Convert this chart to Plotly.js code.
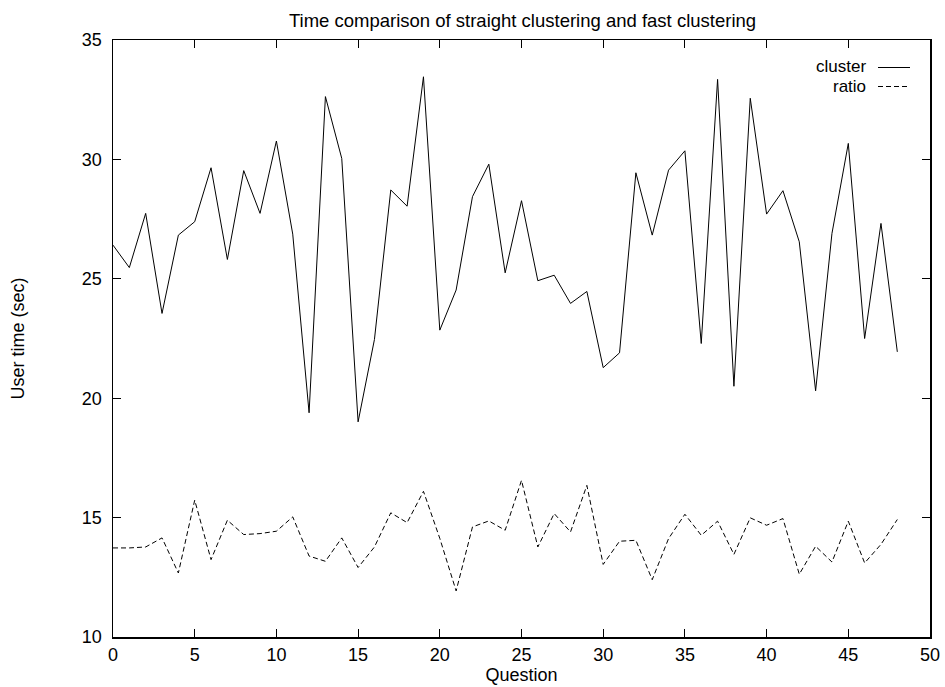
<!DOCTYPE html>
<html>
<head>
<meta charset="utf-8">
<script src="https://cdn.plot.ly/plotly-3.0.1.min.js"></script>
<style>html,body{margin:0;padding:0;background:#fff;}#chart{width:945px;height:687px;}</style>
</head>
<body>
<div id="chart"></div>
<script>
const questions = Array.from({length: 49}, (_, i) => i);
const clusterTimes = [26.41, 25.47, 27.74, 23.55, 26.83, 27.39, 29.65, 25.81, 29.53, 27.74,
  30.77, 26.87, 19.39, 32.63, 30.04, 19.01, 22.46, 28.72, 28.04, 33.46,
  22.85, 24.53, 28.44, 29.80, 25.25, 28.27, 24.92, 25.15, 23.97, 24.47,
  21.28, 21.90, 29.44, 26.83, 29.55, 30.36, 22.29, 33.35, 20.50, 32.56,
  27.71, 28.69, 26.55, 20.31, 26.90, 30.67, 22.50, 27.32, 21.94];
const ratioTimes = [13.73, 13.73, 13.77, 14.15, 12.68, 15.73, 13.24, 14.89, 14.29, 14.33,
  14.43, 15.03, 13.39, 13.17, 14.15, 12.91, 13.77, 15.20, 14.79, 16.10,
  14.13, 11.93, 14.61, 14.86, 14.47, 16.56, 13.77, 15.17, 14.40, 16.35,
  13.04, 14.01, 14.05, 12.40, 14.12, 15.14, 14.26, 14.85, 13.46, 14.99,
  14.68, 14.96, 12.63, 13.80, 13.14, 14.85, 13.10, 13.88, 14.92];
const seriesNames = ['cluster', 'ratio'];
const xTicks = [0, 5, 10, 15, 20, 25, 30, 35, 40, 45, 50];
const yTicks = [10, 15, 20, 25, 30, 35];

const FONT = 'Liberation Sans, Arial, Helvetica, sans-serif';

const traces = [
  {x: questions, y: clusterTimes, name: seriesNames[0], type: 'scatter', mode: 'lines',
   line: {color: '#000', width: 1}, showlegend: false},
  {x: questions, y: ratioTimes, name: seriesNames[1], type: 'scatter', mode: 'lines',
   line: {color: '#000', width: 1, dash: '5px,3px'}, showlegend: false}
];

const axisCommon = {
  showgrid: false, zeroline: false, showline: true, linecolor: '#000', linewidth: 1.5,
  mirror: 'ticks', ticks: 'inside', ticklen: 8, tickwidth: 1, tickcolor: '#000',
  tickfont: {family: FONT, size: 18, color: '#000'}
};

const layout = {
  width: 945, height: 687,
  margin: {l: 113, r: 15, t: 40, b: 50},
  paper_bgcolor: '#fff', plot_bgcolor: '#fff',
  font: {family: FONT, size: 18, color: '#000'},
  title: {text: 'Time comparison of straight clustering and fast clustering',
          font: {family: FONT, size: 18.5, color: '#000'},
          x: 522.5/945, xanchor: 'center', yref: 'container', y: 1 - 21/687, yanchor: 'middle'},
  xaxis: Object.assign({}, axisCommon, {
    range: [0, 50], tickvals: xTicks, ticktext: xTicks.map(String), ticklabelstandoff: 1,
    title: {text: 'Question', font: {family: FONT, size: 18, color: '#000'}, standoff: 1}
  }),
  yaxis: Object.assign({}, axisCommon, {
    range: [10, 35], tickvals: yTicks, ticktext: yTicks.map(String), ticklabelstandoff: 6,
    title: {text: 'User time (sec)', font: {family: FONT, size: 18, color: '#000'}, standoff: 52}
  }),
  annotations: [
    {xref: 'paper', yref: 'paper', x: (867-113)/817, y: 1 - (66.5-40)/597, xanchor: 'right', yanchor: 'middle',
     text: seriesNames[0], showarrow: false, borderpad: 0, font: {family: FONT, size: 17, color: '#000'}},
    {xref: 'paper', yref: 'paper', x: (867-113)/817, y: 1 - (87-40)/597, xanchor: 'right', yanchor: 'middle',
     text: seriesNames[1], showarrow: false, borderpad: 0, font: {family: FONT, size: 17, color: '#000'}}
  ],
  shapes: [
    {type: 'line', xref: 'paper', yref: 'paper', x0: (878-113)/817, x1: (910-113)/817,
     y0: 1 - (67.5-40)/597, y1: 1 - (67.5-40)/597, line: {color: '#000', width: 1}},
    {type: 'line', xref: 'paper', yref: 'paper', x0: (878-113)/817, x1: (910-113)/817,
     y0: 1 - (86.5-40)/597, y1: 1 - (86.5-40)/597, line: {color: '#000', width: 1, dash: '5px,3px'}}
  ]
};

Plotly.newPlot('chart', traces, layout, {displayModeBar: false, staticPlot: true});
</script>
</body>
</html>
